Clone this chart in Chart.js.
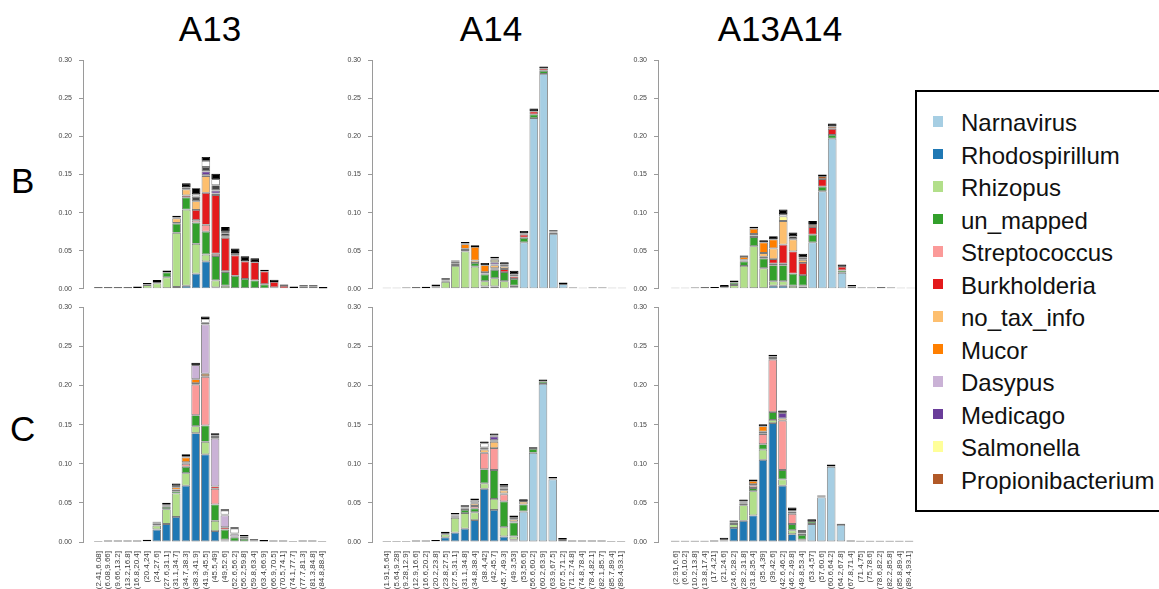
<!DOCTYPE html>
<html>
<head>
<meta charset="utf-8">
<script src="https://cdn.jsdelivr.net/npm/chart.js@4.4.1/dist/chart.umd.min.js"></script>
<style>
  html, body { margin: 0; padding: 0; background: #fff; width: 1159px; height: 589px; overflow: hidden;
    font-family: 'Liberation Sans', Arial, Helvetica, sans-serif; }
  #stage { position: relative; width: 1159px; height: 589px; overflow: hidden; }
  #stage canvas { position: absolute; }
  .title { position: absolute; width: 240px; font-size: 35px; line-height: 40px; text-align: center; color: #000; }
  .rowlab { position: absolute; font-size: 35px; line-height: 40px; color: #000; }
  #legendBox { position: absolute; left: 915px; top: 90px; width: 270px; height: 422px; box-sizing: border-box;
    border: 2px solid #000; background: #fff; }
  .lgSwatch { position: absolute; width: 10px; height: 10.5px; }
  .lgText { position: absolute; font-size: 24px; line-height: 28px; color: #111; white-space: nowrap; }
</style>
</head>
<body>
<div id="stage">
  <div class="title" style="left:90px; top:9px;">A13</div>
  <div class="title" style="left:371px; top:9px;">A14</div>
  <div class="title" style="left:660px; top:9px;">A13A14</div>
  <div class="rowlab" style="left:11px; top:161px;">B</div>
  <div class="rowlab" style="left:10px; top:409px;">C</div>
  <canvas id="pB_A13"></canvas>
  <canvas id="pB_A14"></canvas>
  <canvas id="pB_A13A14"></canvas>
  <canvas id="pC_A13"></canvas>
  <canvas id="pC_A14"></canvas>
  <canvas id="pC_A13A14"></canvas>
  <div id="legendBox"></div>
</div>
<script>
// ---- length bins (x categories) ----
const BINS_A13 = ["(2.41,6.08]","(6.08,9.66]","(9.66,13.2]","(13.2,16.8]","(16.8,20.4]","(20.4,24]","(24,27.6]","(27.6,31.1]","(31.1,34.7]","(34.7,38.3]","(38.3,41.9]","(41.9,45.5]","(45.5,49]","(49,52.6]","(52.6,56.2]","(56.2,59.8]","(59.8,63.4]","(63.4,66.9]","(66.9,70.5]","(70.5,74.1]","(74.1,77.7]","(77.7,81.3]","(81.3,84.8]","(84.8,88.4]"];
const BINS_A14 = ["(1.91,5.64]","(5.64,9.28]","(9.28,12.9]","(12.9,16.6]","(16.6,20.2]","(20.2,23.8]","(23.8,27.5]","(27.5,31.1]","(31.1,34.8]","(34.8,38.4]","(38.4,42]","(42,45.7]","(45.7,49.3]","(49.3,53]","(53,56.6]","(56.6,60.2]","(60.2,63.9]","(63.9,67.5]","(67.5,71.2]","(71.2,74.8]","(74.8,78.4]","(78.4,82.1]","(82.1,85.7]","(85.7,89.4]","(89.4,93.1]"];
const BINS_A13A14 = ["(2.91,6.6]","(6.6,10.2]","(10.2,13.8]","(13.8,17.4]","(17.4,21]","(21,24.6]","(24.6,28.2]","(28.2,31.8]","(31.8,35.4]","(35.4,39]","(39,42.6]","(42.6,46.2]","(46.2,49.8]","(49.8,53.4]","(53.4,57]","(57,60.6]","(60.6,64.2]","(64.2,67.8]","(67.8,71.4]","(71.4,75]","(75,78.6]","(78.6,82.2]","(82.2,85.8]","(85.8,89.4]","(89.4,93.1]"];

// ---- taxa, stacked bottom to top; the last three are the unlabelled minor taxa ----
const TAXA = ["Narnavirus","Rhodospirillum","Rhizopus","un_mapped","Streptococcus","Burkholderia","no_tax_info","Mucor","Dasypus","Medicago","Salmonella","Propionibacterium"];
const MINOR = ["minor taxa (grey)","minor taxa (white)","minor taxa (black)"];

// ---- read-fraction values per bin, one row per taxon (same order as TAXA + MINOR) ----
const B_A13 = [
  [0,0,0,0,0, 0,0,0,0,0, 0,0,0,0,0, 0,0,0,0,0, 0,0,0,0],
  [0,0,0,0,0, 0,0,.001,.0025,.004, .020,.036,.002,.001,.001, .001,.001,0,0,0, 0,0,0,0],
  [0,0,0,0,0, .005,.007,.014,.071,.100, .039,.009,.009,.003,0, 0,0,0,0,0, 0,0,0,0],
  [0,0,0,0,.001, .001,.002,.0065,.012,.016, .028,.030,.032,.018,.016, .012,.010,.006,.002,0, 0,0,0,0],
  [0,0,0,0,0, 0,0,0,0,0, .003,.009,.003,.001,0, 0,0,0,0,0, 0,0,0,0],
  [0,0,0,0,0, 0,0,0,.001,.0025, .0135,.042,.077,.044,.027, .023,.024,.017,.007,.004, .001,0,0,0],
  [0,0,0,0,0, 0,0,0,.006,.008, .0115,.022,.002,0,0, 0,0,0,0,0, 0,0,0,0],
  [0,0,0,0,0, 0,0,0,.0013,0, 0,.001,0,0,0, 0,0,0,0,0, 0,0,0,0],
  [0,0,0,0,0, 0,0,0,0,0, 0,0,0,0,0, 0,0,0,0,0, 0,.003,.003,.0005],
  [0,0,0,0,0, 0,0,0,0,0, 0,.005,.004,.002,0, 0,0,0,0,0, 0,0,0,0],
  [0,0,0,0,0, 0,0,0,0,0, 0,0,0,0,0, 0,0,0,0,0, 0,0,0,0],
  [0,0,0,0,0, 0,0,0,0,0, 0,0,0,0,0, 0,0,0,0,0, 0,0,0,0],
  [0,0,0,0,0, 0,0,0,0,.002, .006,.006,.007,.004,.003, 0,0,0,0,0, 0,0,0,0],
  [0,0,0,0,0, 0,0,0,0,.001, .003,.008,.008,.002,0, 0,0,0,0,0, 0,0,0,0],
  [.002,.002,.002,.002,.002, .0015,.0024,.0025,.002,.005, .008,.005,.007,.006,.006, .0066,.005,.002,.003,.0015, .002,.0015,.0015,.002]
];
const B_A14 = [
  [0,0,0,0,0, 0,0,0,0,0, 0,0,0,.002,.061, .224,.282,.072,.0063,0, 0,0,0,0,0],
  [0,0,0,0,0, 0,0,.001,.001,.001, .003,.003,0,0,0, 0,0,0,0,0, 0,0,0,0,0],
  [0,0,0,0,0, .001,.009,.029,.048,.028, .007,.011,.010,.002,0, 0,0,0,0,0, 0,0,0,0,0],
  [0,0,0,0,.0008, .001,.001,.0025,.002,.005, .009,.011,.012,.009,.006, .005,.004,.002,0,0, 0,0,0,0,0],
  [0,0,0,0,0, 0,0,0,0,0, 0,0,0,0,0, 0,0,0,0,0, 0,0,0,0,0],
  [0,0,0,0,0, 0,0,0,0,0, .001,.002,.004,.003,.004, .004,.003,.0015,0,0, 0,0,0,0,0],
  [0,0,0,0,0, .001,.001,.001,.0015,.003, .002,.004,.003,0,0, 0,0,0,0,0, 0,0,0,0,0],
  [0,0,0,0,0, 0,.002,.0025,.006,.018, .009,.001,0,0,0, 0,0,0,0,0, 0,0,0,0,0],
  [0,0,0,0,0, 0,0,0,0,0, 0,0,0,0,0, 0,0,0,0,0, 0,0,0,0,0],
  [0,0,0,0,0, 0,0,0,0,0, 0,.003,0,0,0, 0,0,0,0,0, 0,0,0,0,0],
  [0,0,0,0,0, 0,0,0,0,0, 0,.003,0,0,0, 0,0,0,0,0, 0,0,0,0,0],
  [0,0,0,0,0, 0,0,0,.001,0, 0,0,0,0,.002, 0,0,0,0,0, 0,0,0,0,0],
  [0,0,0,0,0, 0,0,0,0,0, 0,.002,.003,.003,0, 0,0,0,0,0, 0,0,0,0,0],
  [0,0,0,0,0, 0,0,0,0,0, 0,0,0,0,0, 0,0,0,0,0, 0,0,0,0,0],
  [.0015,.0015,.0018,.002,.0018, .0025,.001,.001,.002,.002, .003,.002,.003,.0046,.003, .0037,.0026,.0013,.002,.0018, .0015,.0018,.0018,.0015,.0015]
];
const B_A13A14 = [
  [0,0,0,0,0, 0,0,0,0,0, 0,0,0,.003,.061, .128,.197,.021,.001,0, 0,0,0,0,0],
  [0,0,0,0,0, 0,0,0,.001,.001, .004,.004,.001,.001,0, 0,0,0,0,0, 0,0,0,0,0],
  [0,0,0,0,0, 0,.005,.030,.055,.026, .006,.006,.003,0,0, 0,0,0,0,0, 0,0,0,0,0],
  [0,0,0,0,.001, .002,.003,.006,.012,.013, .021,.021,.016,.014,.010, .006,.005,.003,0,0, 0,0,0,0,0],
  [0,0,0,0,0, 0,0,0,0,0, .002,.002,0,0,0, 0,0,0,0,0, 0,0,0,0,0],
  [0,0,0,0,0, 0,0,.001,.002,.002, .006,.025,.029,.016,.010, .010,.008,.005,.002,0, 0,0,0,0,0],
  [0,0,0,0,0, 0,0,.001,.002,.005, .014,.031,.016,.004,0, 0,0,0,0,0, 0,0,0,0,0],
  [0,0,0,0,0, 0,0,.004,.007,.014, .012,0,0,0,0, 0,0,0,0,0, 0,0,0,0,0],
  [0,0,0,0,0, 0,0,0,0,0, 0,0,0,0,0, 0,0,0,0,0, 0,0,0,0,0],
  [0,0,0,0,0, 0,0,0,0,0, 0,0,0,0,0, 0,0,0,0,0, 0,.0008,0,0,0],
  [0,0,0,0,0, 0,0,0,0,0, 0,.006,0,0,0, 0,0,0,0,0, 0,0,0,0,0],
  [0,0,0,0,0, 0,.001,0,0,0, 0,0,0,0,.003, .004,.003,0,0,0, 0,0,0,0,0],
  [0,0,0,0,0, 0,0,0,0,0, 0,0,.004,.003,0, 0,0,0,0,0, 0,0,0,0,0],
  [0,0,0,0,0, 0,0,0,0,0, 0,.003,0,0,0, 0,0,0,0,0, 0,0,0,0,0],
  [.0015,.0015,.0018,.002,.0015, .003,.002,.0017,.0024,.0027, .004,.006,.005,.005,.005, .002,.004,.003,.002,.0018, .0018,.0012,.0018,.0015,.0015]
];
const C_A13 = [
  [0,0,0,0,0, 0,0,0,0,0, 0,0,0,0,0, 0,0,0,0,0, 0,0,0,0],
  [0,0,0,0,0, 0,.016,.023,.032,.072, .139,.112,.014,.002,0, 0,0,0,0,0, 0,0,0,0],
  [0,0,0,0,0, 0,.005,.019,.030,.016, .009,.016,.013,.001,0, 0,0,0,0,0, 0,0,0,0],
  [0,0,0,0,0, .001,.002,.003,.003,.008, .014,.021,.021,.013,.006, .004,.002,0,0,0, 0,0,0,0],
  [0,0,0,0,0, 0,0,0,.002,.004, .039,.062,.020,0,.001, 0,0,0,0,0, 0,0,0,0],
  [0,0,0,0,0, 0,0,0,0,0, .002,.001,.003,.003,0, 0,0,0,0,0, 0,0,0,0],
  [0,0,0,0,0, 0,0,0,0,.002, 0,0,0,0,0, 0,0,0,0,0, 0,0,0,0],
  [0,0,0,0,0, 0,.001,.002,.003,.006, .005,.003,0,0,0, 0,0,0,0,0, 0,0,0,0],
  [0,0,0,0,0, 0,0,0,0,0, .018,.063,.061,.015,.003, .001,0,0,0,0, 0,0,0,0],
  [0,0,0,0,0, 0,0,0,0,0, 0,0,0,0,0, 0,0,0,0,0, 0,0,0,0],
  [0,0,0,0,0, 0,0,0,0,0, 0,0,0,0,0, 0,0,0,0,0, 0,0,0,0],
  [0,0,0,0,0, 0,.001,.0015,.002,.002, 0,0,0,0,0, 0,0,0,0,0, 0,0,0,0],
  [0,0,0,0,0, 0,0,0,0,0, 0,.002,.002,.001,.001, 0,0,0,0,0, 0,0,0,0],
  [0,0,0,0,0, 0,0,0,0,0, 0,.005,.002,.005,.006, .002,0,0,0,0, 0,0,0,0],
  [.0012,.0018,.0018,.0018,.0018, .002,.001,.0015,.0028,.002, .003,.003,.003,.002,.002, .002,.0015,.0025,.0018,.0018, .0012,.0018,.0018,.0012]
];
const C_A14 = [
  [0,0,0,0,0, 0,0,0,0,0, 0,0,0,.002,.039, .114,.202,.080,.003,0, 0,0,0,0,0],
  [0,0,0,0,0, 0,.006,.012,.017,.028, .068,.041,.007,.001,0, 0,0,0,0,0, 0,0,0,0,0],
  [0,0,0,0,0, 0,.004,.019,.020,.010, .007,.014,.012,.004,0, 0,0,0,0,0, 0,0,0,0,0],
  [0,0,0,0,0, .001,.0015,.002,.004,.005, .018,.037,.033,.018,.009, .005,.003,.001,0,0, 0,0,0,0,0],
  [0,0,0,0,0, 0,0,0,0,.003, .021,.028,.009,.001,0, 0,0,0,0,0, 0,0,0,0,0],
  [0,0,0,0,0, 0,0,0,.002,0, 0,0,.001,0,0, 0,0,0,0,0, 0,0,0,0,0],
  [0,0,0,0,0, 0,0,.001,.001,.003, .004,.008,.004,.003,.0035, 0,0,0,0,0, 0,0,0,0,0],
  [0,0,0,0,0, 0,0,.0015,.001,0, 0,0,0,0,0, 0,0,0,0,0, 0,0,0,0,0],
  [0,0,0,0,0, 0,0,0,0,0, 0,.002,.002,0,0, 0,0,0,0,0, 0,0,0,0,0],
  [0,0,0,0,0, 0,0,0,0,0, 0,.005,.002,0,0, 0,0,0,0,0, 0,0,0,0,0],
  [0,0,0,0,0, 0,0,0,0,0, 0,0,0,0,0, 0,0,0,0,0, 0,0,0,0,0],
  [0,0,0,0,0, 0,0,0,0,.001, 0,0,0,0,0, 0,0,0,0,0, 0,0,0,0,0],
  [0,0,0,0,0, 0,0,0,0,.001, .003,.001,.002,.003,0, 0,0,0,0,0, 0,0,0,0,0],
  [0,0,0,0,0, 0,0,0,0,.0025, .005,0,0,0,0, 0,0,0,0,0, 0,0,0,0,0],
  [.0012,.0012,.0012,.0018,.0018, .0015,.0015,.0015,.002,.002, .0025,.0027,.002,.002,.003, .002,.0026,.002,.002,.0018, .0018,.0018,.0018,.0012,.0012]
];
const C_A13A14 = [
  [0,0,0,0,0, 0,0,0,0,0, 0,0,0,0,.023, .057,.096,.022,0,0, 0,0,0,0,0],
  [0,0,0,0,0, .002,.018,.027,.034,.105, .152,.072,.010,.002,0, 0,0,0,0,0, 0,0,0,0,0],
  [0,0,0,0,0, 0,.005,.020,.031,.013, .004,.008,.005,.001,0, 0,0,0,0,0, 0,0,0,0,0],
  [0,0,0,0,0, 0,.0015,.002,.004,.007, .010,.012,.008,.006,.003, .0015,.001,0,0,0, 0,0,0,0,0],
  [0,0,0,0,0, 0,0,0,.003,.013, .067,.063,.013,.002,0, 0,0,0,0,0, 0,0,0,0,0],
  [0,0,0,0,0, 0,0,.001,0,.001, 0,0,.001,0,0, 0,0,0,0,0, 0,0,0,0,0],
  [0,0,0,0,0, 0,0,0,.002,.002, .002,.003,0,0,0, 0,0,0,0,0, 0,0,0,0,0],
  [0,0,0,0,0, 0,0,0,.004,.007, .002,0,0,0,0, 0,0,0,0,0, 0,0,0,0,0],
  [0,0,0,0,0, 0,0,0,0,0, 0,0,0,0,0, 0,0,0,0,0, 0,0,0,0,0],
  [0,0,0,0,0, 0,0,0,0,0, 0,.007,.002,0,0, 0,0,0,0,0, 0,0,0,0,0],
  [0,0,0,0,0, 0,0,0,0,0, 0,0,0,0,0, 0,0,0,0,0, 0,0,0,0,0],
  [0,0,0,0,0, 0,.0015,.002,0,0, 0,0,0,0,0, 0,0,0,0,0, 0,0,0,0,0],
  [0,0,0,0,0, .001,0,0,0,0, 0,0,.002,.002,0, 0,0,0,0,0, 0,0,0,0,0],
  [0,0,0,0,0, 0,0,0,0,0, 0,0,0,0,0, 0,0,0,0,0, 0,0,0,0,0],
  [.0015,.0015,.0015,.0015,.002, .0025,.0016,.0024,.002,.0026, .0023,.003,.003,.002,.003, .0009,.002,.0014,.002,.0015, .0015,.0015,.0015,.0015,.0015]
];

// ---- colours (RColorBrewer "Paired") and the minor-taxa shades ----
const PALETTE = ["#A6CEE3","#1F78B4","#B2DF8A","#33A02C","#FB9A99","#E31A1C","#FDBF6F","#FF7F00","#CAB2D6","#6A3D9A","#FFFF99","#B15928","#444444","#FFFFFF","#000000"];
const EDGE = "rgba(100,100,100,0.85)";
const FONT = "'Liberation Sans', Arial, Helvetica, sans-serif";

Chart.defaults.font.family = FONT;

// panel placement: axis = x of the y-axis line, first = centre of the first bar, pitch = bar spacing
const LAYOUT = [
  { id: "pB_A13",    labels: BINS_A13,    rows: B_A13,    axis: 83,  first: 98.4,  pitch: 9.77, top: 57,  h: 237, xlab: false },
  { id: "pB_A14",    labels: BINS_A14,    rows: B_A14,    axis: 372, first: 386.8, pitch: 9.8,  top: 57,  h: 237, xlab: false },
  { id: "pB_A13A14", labels: BINS_A13A14, rows: B_A13A14, axis: 658, first: 675.4, pitch: 9.8,  top: 57,  h: 237, xlab: false },
  { id: "pC_A13",    labels: BINS_A13,    rows: C_A13,    axis: 83,  first: 98.4,  pitch: 9.77, top: 304, h: 238, xlab: true },
  { id: "pC_A14",    labels: BINS_A14,    rows: C_A14,    axis: 372, first: 386.8, pitch: 9.8,  top: 304, h: 238, xlab: true },
  { id: "pC_A13A14", labels: BINS_A13A14, rows: C_A13A14, axis: 658, first: 675.4, pitch: 9.8,  top: 304, h: 238, xlab: true }
];

function drawPanel(p) {
  const yW = 40, padT = 8, padR = 10;
  const padB = p.xlab ? 0 : 6;
  const xH = p.xlab ? 47 : 0;
  const xMin = -(p.first - p.axis) / p.pitch;
  const xMax = p.labels.length - 1 + 0.8;
  const areaW = (xMax - xMin) * p.pitch;
  const cv = document.getElementById(p.id);
  const W = Math.round(yW + areaW + padR);
  const H = padT + p.h + padB + xH;
  cv.width = W; cv.height = H;
  cv.style.width = W + "px"; cv.style.height = H + "px";
  cv.style.left = (p.axis - yW) + "px";
  cv.style.top = (p.top - padT) + "px";
  const names = TAXA.concat(MINOR);
  const last = p.rows.length - 1;
  const datasets = p.rows.map((vals, k) => ({
    label: names[k],
    data: vals.map((v, i) => ({ x: i, y: v > 0 ? v : null })),
    backgroundColor: PALETTE[k],
    borderColor: k === last ? "#000000" : EDGE,
    borderWidth: 0.9,
    borderSkipped: false,
    categoryPercentage: 1,
    barPercentage: 0.88
  }));
  new Chart(cv, {
    type: "bar",
    data: { datasets },
    options: {
      responsive: false,
      animation: false,
      events: [],
      layout: { padding: { top: padT, right: W - yW - areaW, bottom: padB, left: 0 } },
      plugins: { legend: { display: false }, tooltip: { enabled: false } },
      scales: {
        x: {
          type: "linear",
          min: xMin, max: xMax, bounds: "data", offset: false, stacked: true,
          display: p.xlab,
          grid: { display: false, drawTicks: false },
          border: { display: false },
          afterBuildTicks: s => { s.ticks = p.labels.map((_, i) => ({ value: i })); },
          afterFit: s => { s.height = xH; },
          ticks: {
            autoSkip: false, minRotation: 90, maxRotation: 90, padding: 9,
            font: { size: 8 }, color: "#3a3a3a",
            callback: v => (p.labels[v] !== undefined ? p.labels[v] : "")
          }
        },
        y: {
          min: 0, max: 0.3, stacked: true,
          afterFit: s => { s.width = yW; },
          ticks: { stepSize: 0.05, font: { size: 7 }, color: "#444", padding: 7, callback: v => v.toFixed(2) },
          grid: { display: true, drawOnChartArea: false, drawTicks: true, tickLength: 4, color: "#9a9a9a", lineWidth: 1 },
          border: { display: true, color: "#9a9a9a", width: 1 }
        }
      }
    }
  });
}
LAYOUT.forEach(drawPanel);

// ---- legend ----
const stage = document.getElementById("stage");
TAXA.forEach((name, i) => {
  const sw = document.createElement("div");
  sw.className = "lgSwatch";
  sw.style.left = "933px";
  sw.style.top = (116 + 32.5 * i) + "px";
  sw.style.background = PALETTE[i];
  stage.appendChild(sw);
  const tx = document.createElement("div");
  tx.className = "lgText";
  tx.style.left = "961px";
  tx.style.top = (109.2 + 32.5 * i) + "px";
  tx.textContent = name;
  stage.appendChild(tx);
});
</script>
</body>
</html>
